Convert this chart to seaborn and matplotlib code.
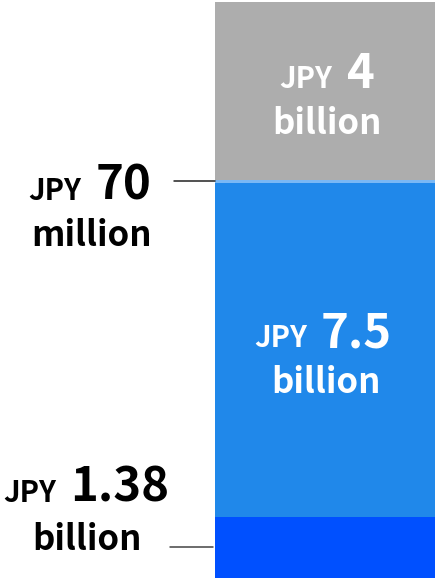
import matplotlib
matplotlib.use("Agg")
import matplotlib.pyplot as plt
import matplotlib.transforms as mtransforms
import numpy as np
import pandas as pd
import seaborn as sns

# Funding breakdown, in billions of yen, stacked from the bottom up
segments = ["1.38 billion", "7.5 billion", "70 million", "4 billion"]
values = [1.38, 7.5, 0.07, 4.0]
colors = ["#0050FF", "#2088EA", "#7AB8F5", "#ADADAD"]

# Label pieces: (small prefix, large figure, second line)
label_prefix = ["JPY", "JPY", "JPY", "JPY"]
label_number = ["1.38", "7.5", "70", "4"]
label_unit = ["billion", "billion", "million", "billion"]

sns.set_theme(style="white")
plt.rcParams["font.family"] = ["Noto Sans CJK JP", "DejaVu Sans"]

W, H = 436, 580
fig = plt.figure(figsize=(W / 100, H / 100), dpi=100)
ax = fig.add_axes([215 / W, 2 / H, 220 / W, 576 / H])

# Stacked bar: draw cumulative totals from the tallest down
cum = np.cumsum(values)
for i in reversed(range(len(values))):
    df = pd.DataFrame({"grp": ["total"], "v": [cum[i]]})
    sns.barplot(data=df, x="grp", y="v", color=colors[i], saturation=1,
                width=0.8, linewidth=0, ax=ax)

ax.set_xlim(-0.4, 0.4)
ax.set_ylim(0, cum[-1])
ax.axis("off")

fig.canvas.draw()
renderer = fig.canvas.get_renderer()

S_SMALL, S_BIG, S_UNIT = 21, 34, 25


def px(x, y):
    return x / W, 1 - y / H


def two_part(cx, baseline, small, big, color, gap=14):
    """Centered line made of a small prefix and a large figure."""
    t1 = fig.text(0, 0, small, fontsize=S_SMALL, fontweight="bold", color=color,
                  va="baseline", ha="left")
    t2 = fig.text(0, 0, big, fontsize=S_BIG, fontweight="bold", color=color,
                  va="baseline", ha="left")
    w1 = t1.get_window_extent(renderer).width
    w2 = t2.get_window_extent(renderer).width
    total = w1 + gap + w2
    x0 = cx - total / 2
    t1.set_position(px(x0, baseline))
    t2.set_position(px(x0 + w1 + gap, baseline))


def unit_line(cx, baseline, text, color):
    fig.text(*px(cx, baseline), text, fontsize=S_UNIT, fontweight="bold",
             color=color, ha="center", va="baseline")


# Labels inside the bar (white)
two_part(327, 88, label_prefix[3], label_number[3], "white")
unit_line(327, 134, label_unit[3], "white")
two_part(323, 347, label_prefix[1], label_number[1], "white")
unit_line(326, 393, label_unit[1], "white")

# Labels to the left of the bar (black)
two_part(90, 200, label_prefix[2], label_number[2], "black")
unit_line(91, 246, label_unit[2], "black")
two_part(86, 502, label_prefix[0], label_number[0], "black")
unit_line(87, 550, label_unit[0], "black")

# Leader lines from the outside labels to their segments
blend = mtransforms.blended_transform_factory(ax.transAxes, ax.transData)
mid_small = cum[1] + values[2] / 2
mid_bottom = values[0] / 2
ax.plot([-41 / 220, 0], [mid_small, mid_small], color="#222222", lw=1.1,
        transform=blend, clip_on=False)
ax.plot([-45 / 220, -2 / 220], [mid_bottom, mid_bottom], color="#444444", lw=1.1,
        transform=blend, clip_on=False)

fig.savefig("out.png", dpi=100)
